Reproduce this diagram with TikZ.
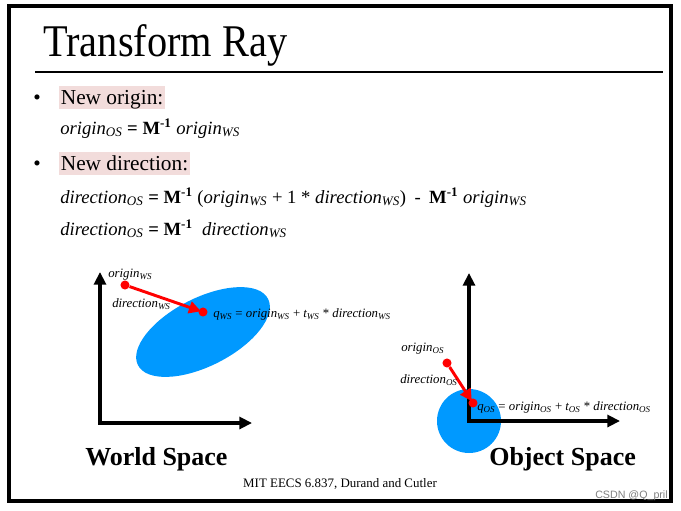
\documentclass[tikz,border=0pt]{standalone}
\usepackage{fontspec}
\setmainfont{Liberation Serif}
\newfontfamily\wmfont{Liberation Sans}
\usetikzlibrary{arrows.meta}
\definecolor{hl}{HTML}{F2DCDB}
\definecolor{objblue}{HTML}{0099FF}
\newcommand{\sbI}[1]{\textsubscript{\textit{#1}}}
\newcommand{\Minv}{\textbf{M}\textsuperscript{\textbf{-1}}}
\begin{document}
\begin{tikzpicture}[x=0.75pt,y=-0.75pt,
  txt/.style={anchor=base west,inner sep=0pt},
  hlbox/.style={anchor=base west,fill=hl,inner xsep=1.2pt,inner ysep=0pt,text height=13.5pt,text depth=3.8pt,font=\fontsize{16}{19}\selectfont},
  bul/.style={anchor=base,inner sep=0pt,font=\fontsize{16}{19}\selectfont},
  formula/.style={anchor=base west,inner sep=0pt,font=\fontsize{14}{17}\selectfont},
  lab/.style={anchor=base west,inner sep=0pt,font=\fontsize{9.6}{11}\selectfont\itshape},
  axis/.style={line width=2.3pt,{Triangle[width=9pt,length=9.5pt]}-{Triangle[width=9pt,length=9.5pt]}},
  dot/.style={circle,fill=red,inner sep=0pt,minimum size=6.8pt},
  ray/.style={red,line width=2.2pt,-{Triangle[width=9pt,length=9pt]},shorten >=-2pt},
  space/.style={anchor=base west,inner sep=0pt,font=\fontsize{19.5}{24}\selectfont\bfseries}]
\useasboundingbox (0,0) rectangle (681,510);
\fill[white] (0,0) rectangle (681,510);
\draw[line width=2.3pt] (9,6) rectangle (671,501);

% title
\node[txt] (title) at (43,57) {\fontsize{34}{40}\selectfont\scalebox{0.89}[1]{Transform Ray}};
\coordinate (r1) at (35,72);
\coordinate (r2) at (663,72);
\draw[line width=2pt] (r1) -- (r2);

% bullets
\node[bul] (d1) at (37,104) {\textbullet};
\node[hlbox] (b1) at (59,104) {New origin:};
\node[formula] (f1) at (60,134) {\textit{origin}\sbI{OS} \textbf{=} \Minv{} \textit{origin}\sbI{WS}};
\node[bul] (d2) at (37,170) {\textbullet};
\node[hlbox] (b2) at (59,170) {New direction:};
\node[formula] (f2) at (60,203) {\textit{direction}\sbI{OS} \textbf{=} \Minv{} (\textit{origin}\sbI{WS} + 1 * \textit{direction}\sbI{WS})\hspace{0.45em}-\hspace{0.45em}\Minv{} \textit{origin}\sbI{WS}};
\node[formula] (f3) at (60,235) {\textit{direction}\sbI{OS} \textbf{=} \Minv{}\ \ \textit{direction}\sbI{WS}};

% world space
\fill[objblue, rotate around={27:(203,332)}] (203,332) ellipse [x radius=73, y radius=34];
\coordinate (wo) at (100,423);
\coordinate (wy) at (100,272);
\coordinate (wx) at (252,423);
\draw[axis] (wy) -- (wo) -- (wx);
\node[dot] (ows) at (125,285) {};
\node[dot] (qws) at (203,312) {};
\draw[ray] (ows) -- (qws);
\node[lab] (lows) at (108,277) {origin\textsubscript{WS}};
\node[lab] (ldws) at (112,307) {direction\textsubscript{WS}};
\node[lab] (lqws) at (213,317) {q\textsubscript{WS}\upshape\ = \itshape origin\textsubscript{WS}\upshape\ + \itshape t\textsubscript{WS}\upshape\ * \itshape direction\textsubscript{WS}};
\node[space] (ws) at (85,465) {World Space};

% object space
\fill[objblue] (469,421) circle [radius=32];
\coordinate (oo) at (469,421);
\coordinate (oy) at (469,273);
\coordinate (ox) at (620,421);
\draw[axis] (oy) -- (oo) -- (ox);
\node[dot] (oos) at (447,363) {};
\node[dot] (qos) at (473,403) {};
\draw[ray] (oos) -- (qos);
\node[lab] (loos) at (401,351) {origin\textsubscript{OS}};
\node[lab] (ldos) at (400,383) {direction\textsubscript{OS}};
\node[lab] (lqos) at (477,410) {q\textsubscript{OS}\upshape\ = \itshape origin\textsubscript{OS}\upshape\ + \itshape t\textsubscript{OS}\upshape\ * \itshape direction\textsubscript{OS}};
\node[space] (os) at (489,465) {Object Space};

% footer
\node[anchor=base,inner sep=0pt,font=\fontsize{9.7}{11}\selectfont] (foot) at (340,487) {MIT EECS 6.837, Durand and Cutler};
\node[anchor=base east,inner sep=0pt,text=gray,font=\wmfont\fontsize{8}{9}\selectfont] (wm) at (668,498) {CSDN @Q\_pril};
\end{tikzpicture}
\end{document}
